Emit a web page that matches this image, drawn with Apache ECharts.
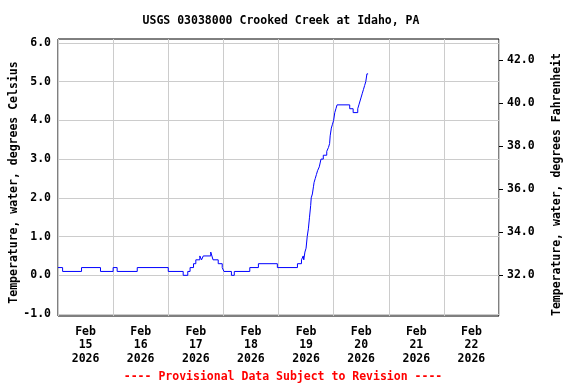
<!DOCTYPE html>
<html>
<head>
<meta charset="utf-8">
<script src="https://cdn.jsdelivr.net/npm/echarts@6/dist/echarts.min.js"></script>
<style>html,body{margin:0;padding:0;background:#fff}#c{width:576px;height:384px}</style>
</head>
<body>
<div id="c"></div>
<script>
// Hours since 2026-02-15 00:00 (start of each stepped reading) and water temperature, deg C
var hours = [0, 2.0, 10.25, 18.5, 24.0, 25.75, 34.5, 48.0, 54.5, 56.5, 57.5, 59.0, 60.0, 61.75, 62.5, 63.25,
  66.5, 67.0, 67.5, 69.75, 71.5, 72.25, 75.5, 76.75, 83.5, 87.25, 95.5, 104.25, 106.0, 106.75, 107.0, 107.5,
  108.0, 108.5, 109.0, 109.5, 110.0, 110.25, 110.75, 111.25, 111.5, 112.0, 112.5, 113.0, 113.75, 114.5, 115.5,
  117.0, 117.75, 118.25, 118.5, 119.0, 119.5, 120.0, 120.5, 121.0, 121.5, 127.0, 128.5, 130.5, 131.0, 131.5,
  132.0, 132.5, 133.0, 133.5, 134.0, 134.5, 135.0];
var tempC = [0.2, 0.1, 0.2, 0.1, 0.2, 0.1, 0.2, 0.1, 0.0, 0.1, 0.2, 0.3, 0.4, 0.5, 0.4, 0.5,
  0.6, 0.5, 0.4, 0.3, 0.2, 0.1, 0.0, 0.1, 0.2, 0.3, 0.2, 0.3, 0.4, 0.5, 0.4, 0.6,
  0.7, 1.0, 1.2, 1.5, 1.8, 2.0, 2.1, 2.3, 2.4, 2.5, 2.6, 2.7, 2.8, 3.0, 3.1,
  3.2, 3.3, 3.4, 3.6, 3.8, 3.9, 4.0, 4.2, 4.3, 4.4, 4.3, 4.2, 4.3, 4.4, 4.5,
  4.6, 4.7, 4.8, 4.9, 5.0, 5.2, 5.2];
var dayLabels = ['Feb\n15\n2026', 'Feb\n16\n2026', 'Feb\n17\n2026', 'Feb\n18\n2026',
  'Feb\n19\n2026', 'Feb\n20\n2026', 'Feb\n21\n2026', 'Feb\n22\n2026'];
var celsiusTicks = [-1, 0, 1, 2, 3, 4, 5, 6];
var fahrenheitTicks = [32, 34, 36, 38, 40, 42];
var titleText = 'USGS 03038000 Crooked Creek at Idaho, PA';
var footText = '---- Provisional Data Subject to Revision ----';

var cMin = -1.05, cMax = 6.1;
var FONT = 'DejaVu Sans Mono';
var FS = 11.5;
var series = hours.map(function (h, i) { return [h, tempC[i]]; });

var chart = echarts.init(document.getElementById('c'), null, {renderer: 'canvas'});
chart.setOption({
  animation: false,
  backgroundColor: '#fff',
  title: [{
    text: titleText, left: 276, top: 10, textAlign: 'center',
    textStyle: {fontFamily: FONT, fontWeight: 'bold', fontSize: FS, color: '#000'}
  }, {
    text: footText, left: 278, top: 366, textAlign: 'center',
    textStyle: {fontFamily: FONT, fontWeight: 'bold', fontSize: FS, color: '#ff0000'}
  }],
  grid: {left: 58, right: 77, top: 39, bottom: 68, show: true, borderColor: '#000', borderWidth: 1,
    containLabel: false, outerBoundsMode: 'none'},
  xAxis: [{
    type: 'value', min: 0, max: 192, interval: 24,
    axisLine: {show: false}, axisTick: {show: false}, axisLabel: {show: false},
    splitLine: {show: true, lineStyle: {color: '#cccccc', width: 1}}
  }, {
    type: 'category', data: dayLabels, boundaryGap: true, position: 'bottom',
    axisLine: {show: false}, axisTick: {show: false}, splitLine: {show: false},
    axisLabel: {interval: 0, margin: 9, fontFamily: FONT, fontWeight: 'bold', fontSize: FS, lineHeight: 13.5, color: '#000'}
  }],
  yAxis: [{
    type: 'value', min: cMin, max: cMax, position: 'left',
    name: 'Temperature, water, degrees Celsius', nameLocation: 'middle', nameRotate: 90, nameGap: 38,
    nameMoveOverlap: false,
    nameTextStyle: {fontFamily: FONT, fontWeight: 'bold', fontSize: FS, color: '#000', padding: [0, 10, 0, 0]},
    axisLine: {show: false},
    axisTick: {show: false, customValues: celsiusTicks},
    axisLabel: {customValues: celsiusTicks, margin: 7, fontFamily: FONT, fontWeight: 'bold', fontSize: FS, color: '#000',
      formatter: function (v) { return v.toFixed(1); }},
    splitLine: {show: true, lineStyle: {color: '#cccccc', width: 1}}
  }, {
    type: 'value', min: cMin * 1.8 + 32, max: cMax * 1.8 + 32, position: 'right',
    name: 'Temperature, water, degrees Fahrenheit', nameLocation: 'middle', nameRotate: 90, nameGap: 52,
    nameMoveOverlap: false,
    nameTextStyle: {fontFamily: FONT, fontWeight: 'bold', fontSize: FS, color: '#000', padding: [0, 14, 0, 0]},
    axisLine: {show: false},
    axisTick: {show: true, customValues: fahrenheitTicks, length: 4, lineStyle: {color: '#000'}},
    axisLabel: {customValues: fahrenheitTicks, margin: 8, fontFamily: FONT, fontWeight: 'bold', fontSize: FS, color: '#000',
      formatter: function (v) { return v.toFixed(1); }},
    splitLine: {show: false}
  }],
  series: [{
    type: 'line', xAxisIndex: 0, yAxisIndex: 0, data: series, step: 'end',
    showSymbol: false, symbol: 'none', lineStyle: {color: '#0000ff', width: 1}
  }]
});
</script>
</body>
</html>
